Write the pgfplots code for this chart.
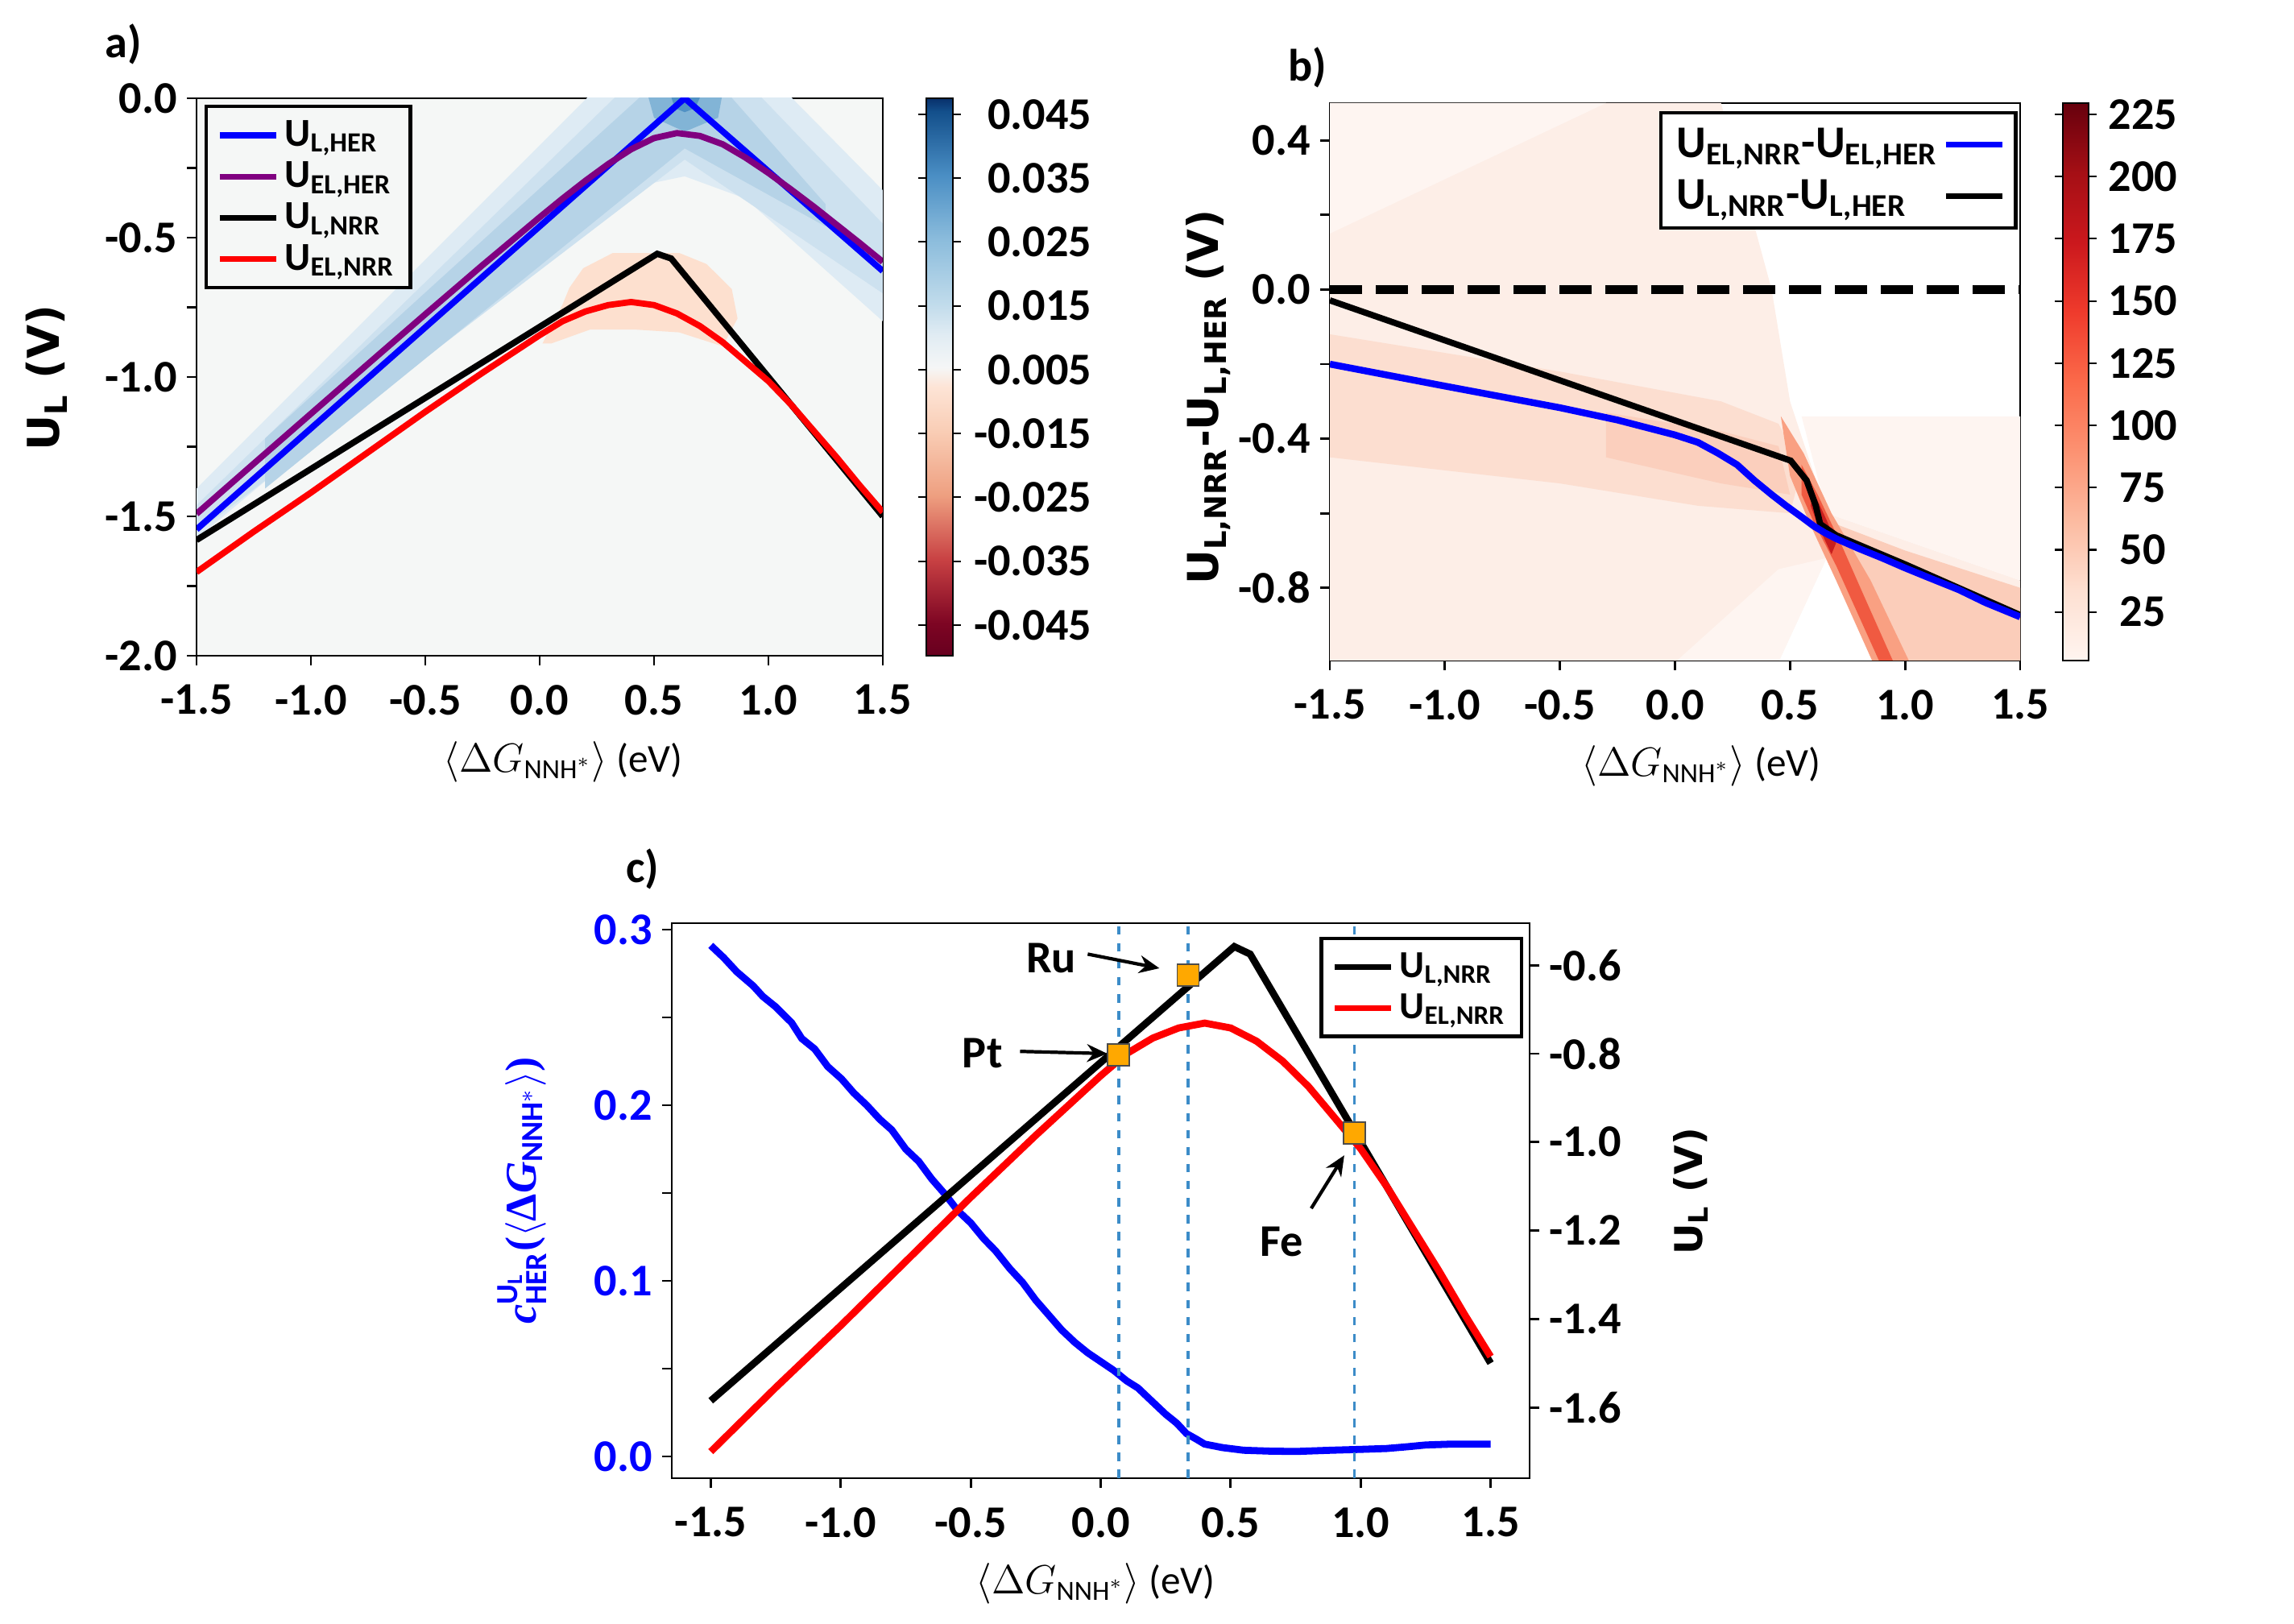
\documentclass[border=0pt]{standalone}
\usepackage{pgfplots}
\pgfplotsset{compat=1.18}
\usetikzlibrary{arrows.meta}
\usepackage{fontspec}
\setmainfont{Carlito}
\newfontfamily\dejavu{DejaVu Sans}
\newfontfamily\serifb{Liberation Serif}
\definecolor{bgA}{RGB}{245,247,246}
\definecolor{tA}{RGB}{222,235,244}
\definecolor{tB}{RGB}{205,225,239}
\definecolor{tC}{RGB}{182,211,231}
\definecolor{tD}{RGB}{130,180,214}
\definecolor{tE}{RGB}{80,145,196}
\definecolor{peach}{RGB}{253,224,207}
\definecolor{pB0}{RGB}{253,238,231}
\definecolor{pBL}{RGB}{254,245,241}
\definecolor{pM}{RGB}{252,222,208}
\definecolor{pM2}{RGB}{251,207,189}
\definecolor{pR}{RGB}{251,205,186}
\definecolor{pD1}{RGB}{249,160,130}
\definecolor{pD2}{RGB}{240,90,65}
\definecolor{pD3}{RGB}{200,30,30}
\definecolor{purp}{RGB}{128,0,128}
\definecolor{vblue}{RGB}{60,140,200}
\definecolor{sqorange}{RGB}{255,168,0}
\pgfplotsset{
  colormap={RdBuA}{rgb255(0pt)=(103,0,31) rgb255(5pt)=(125,5,35) rgb255(15pt)=(200,65,67) rgb255(25pt)=(238,159,128) rgb255(35pt)=(249,205,181) rgb255(42pt)=(253,228,214) rgb255(45pt)=(245,246,246) rgb255(50pt)=(225,236,243) rgb255(55pt)=(192,219,235) rgb255(65pt)=(139,188,220) rgb255(75pt)=(74,142,196) rgb255(85pt)=(19,79,139) rgb255(87pt)=(8,48,107)},
  colormap={RedsB}{rgb255=(255,245,240) rgb255=(254,224,210) rgb255=(252,187,161) rgb255=(252,146,114) rgb255=(251,106,74) rgb255=(239,59,44) rgb255=(203,24,29) rgb255=(165,15,21) rgb255=(103,0,13)},
  mybase/.style={scale only axis, anchor=south west, tick align=outside, major tick length=1.2mm,
    axis line style={line width=0.8pt}, every tick/.style={black, line width=0.8pt},
    ticklabel style={font=\bfseries\fontsize{16}{16}\selectfont},
    xticklabel style={yshift=-1.2mm},
    xtick pos=left, ytick pos=left,
    legend image code/.code={\draw[##1,line width=2pt] (0mm,0mm) -- (7mm,0mm);},
  },
  hmap/.style={draw=none, forget plot},
}
\begin{document}
\begin{tikzpicture}
\path[use as bounding box] (0,0) rectangle (284.8mm,201.6mm);

% ---------------- panel a ----------------
\begin{axis}[mybase, at={(24.4mm,120.2mm)}, width=85.2mm, height=69.2mm,
  xmin=-1.5, xmax=1.5, ymin=-2, ymax=0,
  axis background/.style={fill=bgA},
  xtick={-1.5,-1,-0.5,0,0.5,1,1.5}, xticklabels={-1.5,-1.0,-0.5,0.0,0.5,1.0,1.5},
  ytick={-2,-1.75,-1.5,-1.25,-1,-0.75,-0.5,-0.25,0}, yticklabels={-2.0,{},-1.5,{},-1.0,{},-0.5,{},0.0},
  colorbar, colormap name=RdBuA, point meta min=0, point meta max=8.73,
  colorbar style={at={(parent axis.north east)}, anchor=north west, xshift=2.4mm,
    scale only axis, width=3.3mm, height=69.2mm, ymin=0, ymax=8.73,
    ytick={0.48,1.48,2.48,3.48,4.48,5.48,6.48,7.48,8.48},
    yticklabels={-0.045,-0.035,-0.025,-0.015,0.005,0.015,0.025,0.035,0.045},
    yticklabel style={font=\bfseries\fontsize{16}{16}\selectfont, text width=15mm, align=right, anchor=west},
    tick align=outside, major tick length=1mm, every tick/.style={black, line width=0.6pt},
    axis line style={line width=0.6pt}},
  legend style={at={(0.012,0.988)}, anchor=north west, draw=black, line width=1.2pt, fill=bgA,
    font=\bfseries\fontsize{14}{14}\selectfont, row sep=0mm, inner xsep=1.3mm, inner ysep=1mm},
  legend cell align=left,
]
\addlegendimage{blue}\addlegendentry{U\textsubscript{L,HER}}
\addlegendimage{purp}\addlegendentry{U\textsubscript{EL,HER}}
\addlegendimage{black}\addlegendentry{U\textsubscript{L,NRR}}
\addlegendimage{red}\addlegendentry{U\textsubscript{EL,NRR}}
\addplot[hmap, fill=tA] coordinates {(-1.5,-1.40) (0.23,0.02) (1.08,0.02) (1.5,-0.33) (1.5,-0.80) (0.9,-0.36) (0.634,-0.28) (0.4,-0.32) (0.0,-0.55) (-1.5,-1.58)};
\addplot[hmap, fill=tB] coordinates {(-1.5,-1.46) (0.35,0.02) (0.95,0.02) (1.5,-0.45) (1.5,-0.70) (0.634,-0.22) (-1.5,-1.56)};
\addplot[hmap, fill=tC] coordinates {(-1.2,-1.22) (0.46,0.02) (0.82,0.02) (1.25,-0.38) (1.25,-0.46) (0.634,-0.18) (-1.2,-1.40)};
\addplot[hmap, fill=tD] coordinates {(0.47,0.02) (0.80,0.02) (0.78,-0.07) (0.634,-0.12) (0.50,-0.07)};
\addplot[hmap, fill=tE] coordinates {(0.57,0.02) (0.71,0.02) (0.68,-0.035) (0.634,-0.05) (0.59,-0.035)};
\addplot[hmap, fill=peach] coordinates {(0.012,-0.88) (0.10,-0.74) (0.13,-0.68) (0.19,-0.61) (0.32,-0.555) (0.61,-0.555) (0.73,-0.595) (0.84,-0.685) (0.865,-0.79) (0.80,-0.89) (0.61,-0.84) (0.42,-0.83) (0.22,-0.83) (0.05,-0.88)};
\addplot[blue, line width=2.2pt, forget plot] coordinates {(-1.5,-1.547) (0.634,0) (1.5,-0.62)};
\addplot[purp, line width=2.2pt, forget plot] coordinates {(-1.5,-1.491) (-1.25,-1.311) (-1.0,-1.132) (-0.75,-0.953) (-0.5,-0.775) (-0.25,-0.599) (0,-0.427) (0.1,-0.360) (0.2,-0.296) (0.3,-0.236) (0.4,-0.183) (0.5,-0.143) (0.6,-0.125) (0.7,-0.135) (0.8,-0.165) (0.9,-0.213) (1.0,-0.268) (1.1,-0.328) (1.2,-0.390) (1.3,-0.455) (1.4,-0.520) (1.5,-0.587)};
\addplot[black, line width=2.2pt, forget plot] coordinates {(-1.5,-1.585) (0.514,-0.558) (0.575,-0.575) (1.5,-1.50)};
\addplot[red, line width=2.2pt, forget plot] coordinates {(-1.5,-1.70) (-1.25,-1.555) (-1.0,-1.415) (-0.75,-1.27) (-0.5,-1.125) (-0.25,-0.985) (0,-0.85) (0.1,-0.80) (0.2,-0.765) (0.3,-0.742) (0.4,-0.731) (0.5,-0.742) (0.6,-0.772) (0.7,-0.817) (0.8,-0.875) (0.9,-0.945) (1.0,-1.015) (1.1,-1.10) (1.2,-1.195) (1.3,-1.29) (1.4,-1.39) (1.5,-1.485)};
\end{axis}

% ---------------- panel b ----------------
\begin{axis}[mybase, at={(165.1mm,119.6mm)}, width=85.7mm, height=69.2mm,
  xmin=-1.5, xmax=1.5, ymin=-0.995, ymax=0.5,
  xtick={-1.5,-1,-0.5,0,0.5,1,1.5}, xticklabels={-1.5,-1.0,-0.5,0.0,0.5,1.0,1.5},
  ytick={-0.8,-0.6,-0.4,-0.2,0,0.2,0.4}, yticklabels={-0.8,{},-0.4,{},0.0,{},0.4},
  colorbar, colormap name=RedsB, point meta min=5.5, point meta max=229.5,
  colorbar style={at={(parent axis.north east)}, anchor=north west, xshift=2.3mm,
    scale only axis, width=3.2mm, height=69.2mm, ymin=5.5, ymax=229.5,
    ytick={25,50,75,100,125,150,175,200,225},
    yticklabels={25,50,75,100,125,150,175,200,225},
    yticklabel style={font=\bfseries\fontsize{16}{16}\selectfont, text width=9mm, align=center, anchor=west},
    tick align=outside, major tick length=1mm, every tick/.style={black, line width=0.6pt},
    axis line style={line width=0.6pt}},
  legend style={at={(0.996,0.986)}, anchor=north east, draw=black, line width=1.2pt, fill=white,
    font=\bfseries\fontsize{16}{16}\selectfont, row sep=0.8mm, inner xsep=1.3mm, inner ysep=1.2mm},
  legend cell align=left, legend plot pos=right,
]
\addlegendimage{blue}\addlegendentry{U\textsubscript{EL,NRR}-U\textsubscript{EL,HER}}
\addlegendimage{black}\addlegendentry{U\textsubscript{L,NRR}-U\textsubscript{L,HER}}
\addplot[hmap, fill=pB0] coordinates {(-1.5,0.5) (0.2,0.5) (0.42,0.0) (0.5,-0.3) (0.66,-0.6) (1.5,-0.78) (1.5,-1.0) (-1.5,-1.0)};
\addplot[hmap, fill=pBL] coordinates {(-1.5,0.5) (-0.3,0.5) (-1.5,0.15)};
\addplot[hmap, fill=pBL] coordinates {(0.55,-0.34) (1.5,-0.34) (1.5,-0.78) (0.66,-0.6)};
\addplot[hmap, fill=pBL] coordinates {(0.0,-1.0) (0.45,-0.75) (0.66,-0.72) (0.45,-1.0)};
\addplot[hmap, fill=pM] coordinates {(-1.5,-0.12) (-0.5,-0.22) (0.2,-0.3) (0.45,-0.36) (0.55,-0.48) (0.5,-0.6) (0.1,-0.58) (-0.5,-0.52) (-1.5,-0.45)};
\addplot[hmap, fill=pM2] coordinates {(-0.3,-0.33) (0.2,-0.38) (0.45,-0.42) (0.5,-0.55) (0.2,-0.52) (-0.3,-0.45)};
\addplot[hmap, fill=pR] coordinates {(0.66,-0.62) (1.0,-0.70) (1.5,-0.80) (1.5,-1.0) (1.0,-1.0) (0.8,-0.8)};
\addplot[hmap, fill=white] coordinates {(0.45,-1.0) (0.66,-0.72) (0.9,-1.0)};
\addplot[hmap, fill=pD1] coordinates {(0.46,-0.34) (0.56,-0.44) (0.68,-0.6) (0.85,-0.78) (1.02,-1.0) (0.86,-1.0) (0.7,-0.78) (0.58,-0.62) (0.5,-0.5)};
\addplot[hmap, fill=pD2] coordinates {(0.55,-0.47) (0.62,-0.55) (0.72,-0.68) (0.82,-0.82) (0.95,-1.0) (0.89,-1.0) (0.7,-0.74) (0.6,-0.62) (0.55,-0.55)};
\addplot[hmap, fill=pD3] coordinates {(0.6,-0.54) (0.66,-0.62) (0.7,-0.68) (0.68,-0.71) (0.62,-0.63) (0.59,-0.58)};
\addplot[black, line width=3pt, dash pattern=on 4mm off 1.7mm, forget plot] coordinates {(-1.5,0) (1.5,0)};
\addplot[black, line width=2.2pt, forget plot] coordinates {(-1.5,-0.029) (0.503,-0.459) (0.572,-0.512) (0.612,-0.58) (0.631,-0.629) (0.70,-0.659) (1.0,-0.737) (1.5,-0.873)};
\addplot[blue, line width=2.4pt, forget plot] coordinates {(-1.5,-0.2) (-1.0,-0.259) (-0.5,-0.317) (-0.25,-0.35) (0.0,-0.39) (0.1,-0.41) (0.187,-0.439) (0.27,-0.47) (0.345,-0.512) (0.42,-0.55) (0.483,-0.58) (0.55,-0.61) (0.602,-0.634) (0.65,-0.652) (0.70,-0.668) (0.8,-0.695) (0.9,-0.72) (0.997,-0.746) (1.1,-0.772) (1.233,-0.805) (1.35,-0.84) (1.5,-0.878)};
\end{axis}

% ---------------- panel c (left axis) ----------------
\begin{axis}[mybase, at={(83.4mm,18.1mm)}, width=106.5mm, height=68.9mm,
  xmin=-1.65, xmax=1.65, ymin=-0.0124, ymax=0.3037,
  xtick={-1.5,-1,-0.5,0,0.5,1,1.5}, xticklabels={-1.5,-1.0,-0.5,0.0,0.5,1.0,1.5},
  ytick={0,0.05,0.1,0.15,0.2,0.25,0.3}, yticklabels={0.0,{},0.1,{},0.2,{},0.3},
  yticklabel style={color=blue},
]
\addplot[blue, line width=2.5pt, forget plot] coordinates {(-1.5,0.291) (-1.45,0.284) (-1.4,0.276) (-1.337,0.268) (-1.3,0.262) (-1.25,0.256) (-1.189,0.247) (-1.15,0.238) (-1.1,0.232) (-1.05,0.222) (-0.997,0.215) (-0.95,0.207) (-0.9,0.200) (-0.85,0.192) (-0.804,0.186) (-0.75,0.175) (-0.7,0.168) (-0.65,0.158) (-0.597,0.149) (-0.55,0.140) (-0.5,0.133) (-0.45,0.124) (-0.404,0.117) (-0.35,0.107) (-0.3,0.099) (-0.25,0.089) (-0.197,0.080) (-0.15,0.072) (-0.1,0.065) (-0.05,0.059) (0.0,0.054) (0.05,0.049) (0.1,0.043) (0.143,0.039) (0.2,0.031) (0.25,0.024) (0.292,0.019) (0.33,0.013) (0.366,0.010) (0.4,0.007) (0.469,0.005) (0.55,0.0035) (0.65,0.003) (0.75,0.0028) (0.884,0.0035) (1.0,0.004) (1.1,0.0045) (1.18,0.0055) (1.25,0.0065) (1.35,0.007) (1.5,0.007)};
\addplot[vblue, line width=1pt, dashed, forget plot] coordinates {(0.069,-0.0124) (0.069,0.3037)};
\addplot[vblue, line width=1pt, dashed, forget plot] coordinates {(0.336,-0.0124) (0.336,0.3037)};
\addplot[vblue, line width=1pt, dashed, forget plot] coordinates {(0.976,-0.0124) (0.976,0.3037)};
\end{axis}

% ---------------- panel c (right axis) ----------------
\begin{axis}[mybase, at={(83.4mm,18.1mm)}, width=106.5mm, height=68.9mm,
  xmin=-1.65, xmax=1.65, ymin=-1.76, ymax=-0.505,
  hide x axis, ytick pos=right, yticklabel pos=right,
  ytick={-1.6,-1.4,-1.2,-1.0,-0.8,-0.6}, yticklabels={-1.6,-1.4,-1.2,-1.0,-0.8,-0.6},
  legend style={at={(0.9925,0.975)}, anchor=north east, draw=black, line width=1.2pt, fill=white,
    font=\bfseries\fontsize{13.5}{13.5}\selectfont, row sep=0.1mm, inner xsep=1.3mm, inner ysep=1mm},
  legend cell align=left,
]
\addlegendimage{black}\addlegendentry{U\textsubscript{L,NRR}}
\addlegendimage{red}\addlegendentry{U\textsubscript{EL,NRR}}
\addplot[black, line width=2.5pt, forget plot] coordinates {(-1.5,-1.585) (0.514,-0.558) (0.575,-0.575) (1.5,-1.50)};
\addplot[red, line width=2.5pt, forget plot] coordinates {(-1.5,-1.70) (-1.25,-1.555) (-1.0,-1.415) (-0.75,-1.27) (-0.5,-1.125) (-0.25,-0.985) (0,-0.85) (0.1,-0.80) (0.2,-0.765) (0.3,-0.742) (0.4,-0.731) (0.5,-0.742) (0.6,-0.772) (0.7,-0.817) (0.8,-0.875) (0.9,-0.945) (1.0,-1.015) (1.1,-1.10) (1.2,-1.195) (1.3,-1.29) (1.4,-1.39) (1.5,-1.485)};
\addplot[only marks, mark=square*, mark size=1.35mm, mark options={fill=sqorange, draw=black!70, line width=0.5pt}, forget plot] coordinates {(0.069,-0.803) (0.336,-0.623) (0.976,-0.979)};
\node[font=\bfseries\fontsize{16}{16}\selectfont] at (axis cs:-0.19,-0.584) {Ru};
\node[font=\bfseries\fontsize{16}{16}\selectfont] at (axis cs:-0.455,-0.80) {Pt};
\node[font=\bfseries\fontsize{16}{16}\selectfont] at (axis cs:0.697,-1.226) {Fe};
\draw[-{Stealth[length=2.5mm,width=2.2mm]}, line width=1.2pt] (axis cs:-0.05,-0.575) -- (axis cs:0.226,-0.607);
\draw[-{Stealth[length=2.5mm,width=2.2mm]}, line width=1.2pt] (axis cs:-0.31,-0.795) -- (axis cs:0.025,-0.80);
\draw[-{Stealth[length=2.5mm,width=2.2mm]}, line width=1.2pt] (axis cs:0.81,-1.15) -- (axis cs:0.937,-1.03);
\end{axis}

% ---------------- axis labels ----------------
\node[font=\fontsize{14}{14}\selectfont] at (69.9mm,107.0mm) {$\langle\Delta G_{\mathrm{NNH}^*}\rangle$ (eV)};
\node[font=\fontsize{14}{14}\selectfont] at (211.2mm,106.5mm) {$\langle\Delta G_{\mathrm{NNH}^*}\rangle$ (eV)};
\node[font=\fontsize{14}{14}\selectfont] at (136.0mm,5.0mm) {$\langle\Delta G_{\mathrm{NNH}^*}\rangle$ (eV)};
\node[rotate=90, font=\dejavu\bfseries\fontsize{15.5}{15.5}\selectfont] at (5.8mm,154.7mm) {U\textsubscript{L} (V)};
\node[rotate=90, font=\dejavu\bfseries\fontsize{15}{15}\selectfont] at (150.0mm,152.3mm) {U\textsubscript{L,NRR}-U\textsubscript{L,HER} (V)};
\node[rotate=90, font=\dejavu\bfseries\fontsize{13.5}{13.5}\selectfont] at (209.9mm,53.7mm) {U\textsubscript{L} (V)};
\node[rotate=90, text=blue, font=\serifb\bfseries\fontsize{15.5}{15.5}\selectfont] at (64.8mm,53.8mm) {{\itshape c}$^{\mathbf{U_L}}_{\mathbf{HER}}$($\langle$Δ{\itshape G}$_{\mathbf{NNH^*}}\rangle$)};

\node[font=\bfseries\fontsize{16}{16}\selectfont] at (15.3mm,196.1mm) {a)};
\node[font=\bfseries\fontsize{16}{16}\selectfont] at (162.3mm,193.2mm) {b)};
\node[font=\bfseries\fontsize{16}{16}\selectfont] at (79.8mm,93.7mm) {c)};
\end{tikzpicture}
\end{document}
